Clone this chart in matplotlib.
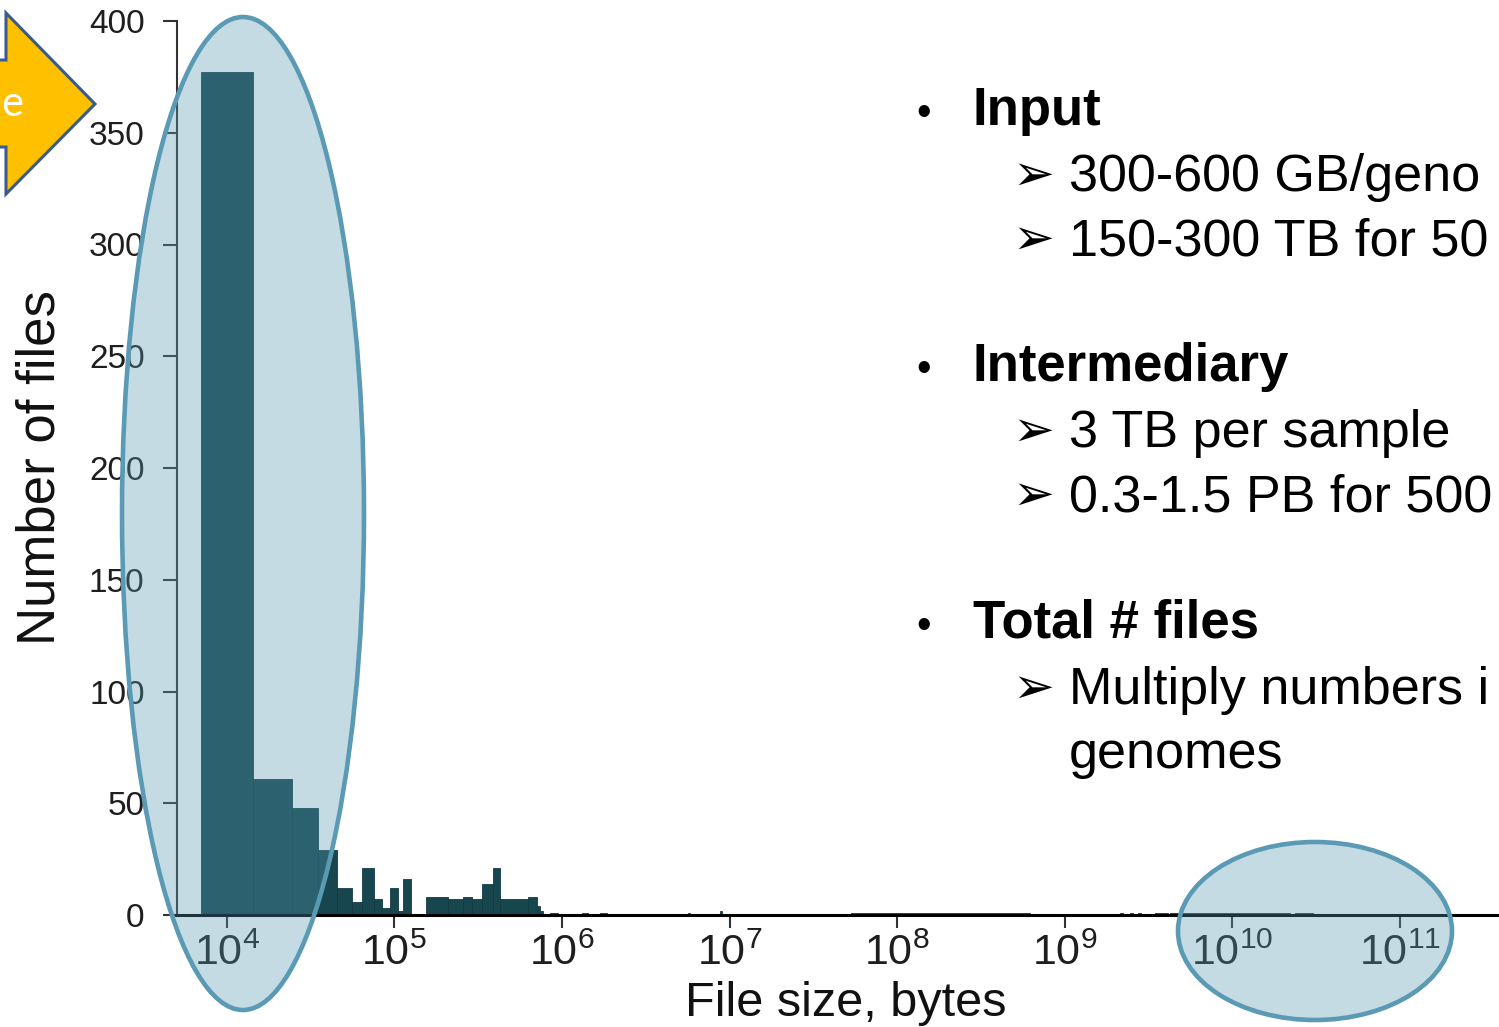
import matplotlib
matplotlib.use('Agg')
import matplotlib.pyplot as plt
from matplotlib.patches import Ellipse, Polygon
from matplotlib.ticker import NullLocator

# histogram bins: log10(file size) left/right edge and number of files
bin_lo = [3.847, 4.157, 4.390, 4.545, 4.658, 4.748, 4.807, 4.879, 4.926, 4.974, 5.021, 5.051,
          5.188, 5.320, 5.410, 5.464, 5.523, 5.589, 5.631, 5.798, 5.851, 5.869,
          5.929, 6.120, 6.228, 6.753, 6.944, 7.725,
          9.331, 9.391, 9.439, 9.540, 9.629, 9.701, 10.375]
bin_hi = [4.157, 4.390, 4.545, 4.658, 4.748, 4.807, 4.879, 4.926, 4.974, 5.021, 5.051, 5.099,
          5.320, 5.410, 5.464, 5.523, 5.589, 5.631, 5.798, 5.851, 5.869, 5.887,
          5.977, 6.156, 6.270, 6.765, 6.956, 8.793,
          9.349, 9.409, 9.457, 9.617, 9.701, 10.345, 10.482]
n_files = [377, 61, 48, 29, 12, 6, 21, 7, 3, 12, 2, 16,
           8, 7, 8, 7, 14, 21, 7, 8, 4, 2,
           1, 1, 1, 1, 2, 1,
           1, 1, 1, 1, 1, 1, 1]

x_decades = [4, 5, 6, 7, 8, 9, 10, 11]
y_ticks = [0, 50, 100, 150, 200, 250, 300, 350, 400]

# slide text on the right (only the part visible on the crop)
headings = ['Input', 'Intermediary', 'Total # files']
sub_items = [
    ['300-600 GB/geno', '150-300 TB for 50'],
    ['3 TB per sample', '0.3-1.5 PB for 500'],
    ['Multiply numbers i', 'genomes'],
]

W, H = 1499, 1027

plt.rcParams['font.family'] = ['Liberation Sans', 'DejaVu Sans']
plt.rcParams['mathtext.fontset'] = 'custom'
plt.rcParams['mathtext.rm'] = 'Liberation Sans'

fig = plt.figure(figsize=(W / 100, H / 100), dpi=100)

# histogram axes (pixel geometry taken from the slide)
ax = fig.add_axes([176.5 / W, 112 / H, (W - 176.5) / W, 894 / H])
ax.set_xscale('log')
lefts = [10 ** a for a in bin_lo]
widths = [10 ** b - 10 ** a for a, b in zip(bin_lo, bin_hi)]
ax.bar(lefts, n_files, width=widths, align='edge', color='#17464f',
       edgecolor='#123b43', linewidth=0.6)
ax.set_xlim(10 ** 3.7005, 10 ** 11.591)
ax.set_ylim(0, 400)

ax.set_xticks([10 ** k for k in x_decades])
ax.xaxis.set_minor_locator(NullLocator())
ax.set_yticks(y_ticks)

for s in ['top', 'right']:
    ax.spines[s].set_visible(False)
ax.spines['left'].set_color('#333333')
ax.spines['left'].set_linewidth(1.5)
ax.spines['bottom'].set_color('black')
ax.spines['bottom'].set_linewidth(2.2)

ax.tick_params(axis='y', length=10, width=1.5, pad=13, labelsize=24,
               color='#333333', labelcolor='#1e1e1e')
ax.tick_params(axis='x', length=9.5, width=1.5, pad=4, labelsize=31,
               color='#333333', labelcolor='#1e1e1e')

ax.set_ylabel('Number of files', fontsize=38, color='#111111', va='center')
ax.yaxis.set_label_coords(-0.1025, 0.5)
ax.set_xlabel('File size, bytes', fontsize=35, color='#111111', va='baseline')
ax.xaxis.set_label_coords(0.506, -0.1126)

# overlay in pixel coordinates for the slide decorations
ov = fig.add_axes([0, 0, 1, 1], zorder=5)
ov.set_xlim(0, W)
ov.set_ylim(H, 0)
ov.axis('off')

fill = (84 / 255, 153 / 255, 177 / 255, 0.345)
ov.add_patch(Ellipse((243, 513.5), 242, 993, facecolor=fill, edgecolor='#5a9ab4', linewidth=3.3))
ov.add_patch(Ellipse((1315, 931), 274, 178, facecolor=fill, edgecolor='#5a9ab4', linewidth=3.3))

# yellow block arrow (cut off at the left edge)
arrow = [(-20, 60), (6, 60), (6, 13), (95, 104), (6, 194), (6, 147), (-20, 147)]
ov.add_patch(Polygon(arrow, closed=True, facecolor='#ffc000', edgecolor='#3a5c8c',
                     linewidth=2.2, joinstyle='miter'))
ov.text(1, 104, 'e', ha='left', va='center', color='white', fontsize=30, family='Lato')

# bullet list
head_base = [125, 381, 638]
for i, head in enumerate(headings):
    y0 = head_base[i]
    ov.text(924, y0, '\u2022', ha='center', va='baseline', fontsize=30, color='black')
    ov.text(973, y0, head, ha='left', va='baseline', fontsize=38, fontweight='bold', color='black')
    for j, item in enumerate(sub_items[i]):
        y = y0 + 66 + 64 * j
        if not (i == 2 and j == 1):
            ov.text(1012, y - 1, '\u27a2', ha='left', va='baseline', fontsize=36,
                    family='DejaVu Sans', color='black')
        ov.text(1069, y, item, ha='left', va='baseline', fontsize=37.5, color='black')

fig.savefig('out.png', dpi=100)
